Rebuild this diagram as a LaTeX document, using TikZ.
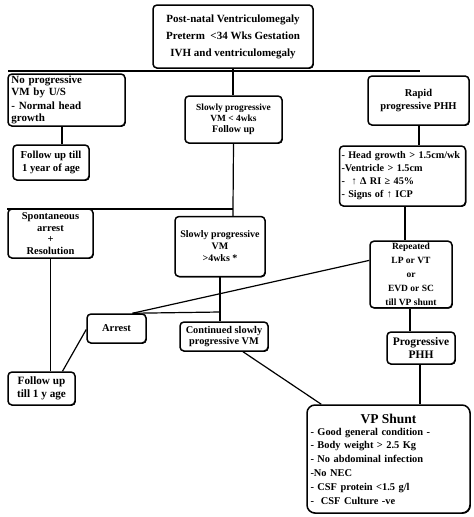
\documentclass[tikz,border=0pt]{standalone}
\usepackage{fontspec}
\setmainfont{Liberation Serif}
\usetikzlibrary{shapes,arrows,positioning,shadows}
\newcommand{\tam}[2]{\fontsize{#1}{#2}\selectfont\bfseries}
\tikzstyle{caja} = [draw, line width=1.5pt, rounded corners=4pt, fill=white, align=center, inner sep=2pt,
	font=\tam{9}{10.5}, drop shadow={shadow xshift=0.8pt, shadow yshift=-0.8pt, opacity=1, fill=black}]
\tikzstyle{linea} = [line width=1.2pt]

\begin{document}
\begin{tikzpicture}[x=1pt, y=-1pt]
	\useasboundingbox (0,0) rectangle (474,517);
	\node [caja, minimum width=160pt, minimum height=63pt, font=\tam{11}{12}] (top) at (233,36.5)
		{Post-natal Ventriculomegaly\\[5pt] Preterm \ <34 Wks Gestation\\[5pt] IVH and ventriculomegaly};
	\node [caja, minimum width=117pt, minimum height=52pt, text width=110pt, align=left, font=\tam{11}{11.5}] (nopr) at (66.5,100)
		{No progressive\\ VM by U/S\\[3pt] - Normal head\\ growth\\[-4pt]};
	\node [caja, minimum width=97pt, minimum height=47pt, font=\tam{9.4}{11}] (slowa) at (233.5,119.5)
		{Slowly progressive\\ VM < 4wks\\ {\tam{10}{11}Follow up}};
	\node [caja, minimum width=101pt, minimum height=49pt, font=\tam{10.5}{12.5}] (rapid) at (418.5,100.5)
		{Rapid\\ progressive PHH};
	\node [caja, minimum width=76pt, minimum height=35pt, font=\tam{10.7}{12.5}] (fua) at (51,162.5)
		{Follow up till\\ 1 year of age};
	\node [caja, minimum width=125pt, minimum height=60pt, text width=122pt, align=left, font=\tam{10.2}{13}] (signs) at (402.5,176)
		{- Head growth > 1.5cm/wk\\ -Ventricle > 1.5cm\\ - \ ↑ Δ RI ≥ 45\%\\ - Signs of ↑ ICP};
	\node [caja, minimum width=85pt, minimum height=49pt, font=\tam{10.5}{11.5}] (spont) at (50.5,233.5)
		{Spontaneous\\ arrest\\ +\\ Resolution};
	\node [caja, minimum width=90pt, minimum height=60pt, font=\tam{10}{12}] (slowb) at (220,246.5)
		{Slowly progressive\\ VM\\ >4wks *};
	\node [caja, minimum width=82pt, minimum height=66pt, font=\tam{9.5}{14}] (rep) at (411,274.5)
		{Repeated\\ LP or VT\\ or\\ EVD or SC\\ till VP shunt};
	\node [caja, minimum width=59pt, minimum height=29pt, font=\tam{10.5}{12}] (arrest) at (116.5,328.5) {Arrest};
	\node [caja, minimum width=88pt, minimum height=29pt, font=\tam{10.3}{11.5}] (cont) at (224,336.5)
		{Continued slowly\\ progressive VM};
	\node [caja, minimum width=68pt, minimum height=32pt, font=\tam{11.5}{12.5}] (pphh) at (421,348)
		{Progressive\\ PHH};
	\node [caja, minimum width=67pt, minimum height=33pt, font=\tam{11.2}{12.5}] (fub) at (41.5,388.5)
		{Follow up\\ till 1 y age};
	\node [caja, minimum width=163pt, minimum height=108pt, text width=156pt, align=left, rounded corners=8pt,
		font=\tam{10.4}{13.8}] (vp) at (388.5,459)
		{\centerline{\tam{13.5}{15}VP Shunt}\\[-2pt]
		- Good general condition -\\ - Body weight > 2.5 Kg\\ - No abdominal infection\\ -No NEC\\
		- CSF protein <1.5 g/l\\ - \ CSF Culture -ve};

	\coordinate (busl) at (8,71);
	\coordinate (busr) at (420,71);
	\coordinate (jmid) at (233,209);
	\coordinate (jlow) at (220,312);
	\draw [linea] (busl) -- (busr);
	\draw [linea] (top.south) -- (top.south |- slowa.north);
	\draw [linea] ([xshift=-4.5pt]nopr.south) -- ([xshift=-4.5pt]nopr.south |- fua.north);
	\draw [linea] (slowa.south) -- (jmid) -- (jmid |- slowb.north);
	\draw [linea] (jmid) -- (spont.north west |- jmid);
	\draw [linea] ([xshift=0.5pt]rapid.south) -- ([xshift=0.5pt]rapid.south |- signs.north);
	\draw [linea] ([xshift=2.5pt]signs.south) -- ([xshift=2.5pt]signs.south |- rep.north);
	\draw [linea] ([yshift=-20pt]rep.north west) -- ([xshift=16pt]arrest.north);
	\draw [linea] (slowb.south) -- (jlow) -- (jlow |- cont.north);
	\draw [linea] (jlow) -- ([xshift=16pt]arrest.north);
	\draw [linea] (spont.south) -- (spont.south |- fub.north);
	\draw [linea] ([yshift=-1pt]arrest.west) -- ([xshift=21pt]fub.north);
	\draw [linea] ([xshift=-1pt]rep.south) -- ([xshift=-1pt]rep.south |- pphh.north);
	\draw [linea] ([xshift=-1pt]pphh.south) -- ([xshift=-1pt]pphh.south |- vp.north);
	\draw [linea] ([xshift=19pt]cont.south) -- ([xshift=15pt]vp.north west);
\end{tikzpicture}
\end{document}
